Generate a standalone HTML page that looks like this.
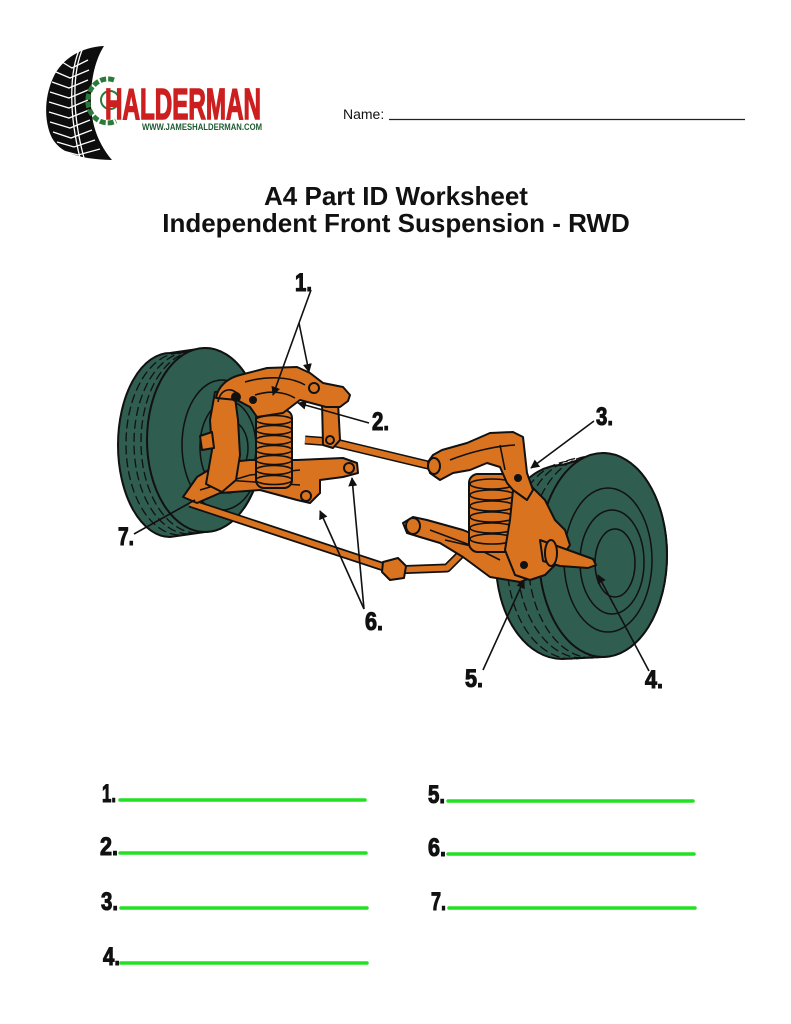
<!DOCTYPE html>
<html><head><meta charset="utf-8"><style>
html,body{margin:0;padding:0;background:#fff;}
svg{display:block;}
.o{fill:#d9731f;stroke:#111;stroke-width:2;stroke-linejoin:round;}
.k{fill:none;stroke:#111;stroke-width:1.6;}
.lbl{font-family:"Liberation Sans Narrow","Liberation Sans",sans-serif;font-weight:bold;font-size:25px;fill:#111;stroke:#111;stroke-width:1.1;}
</style></head><body>
<svg width="791" height="1024" viewBox="0 0 791 1024" xmlns="http://www.w3.org/2000/svg">
<defs>
<marker id="ar" viewBox="0 0 10 10" refX="9" refY="5" markerWidth="9" markerHeight="9" orient="auto" markerUnits="userSpaceOnUse">
<path d="M0,0 L10,5 L0,10 Z" fill="#111"/></marker>
</defs>
<rect width="791" height="1024" fill="#fff"/>

<!-- Logo tire -->
<path d="M104,46 C82,47 62,58 53,78 C44,98 44,122 52,138 C60,152 76,159 112,160 C100,146 92,128 91,106 C90,82 95,60 104,46 Z" fill="#0d0d0d"/>
<g stroke="#fff" stroke-width="1.3" fill="none">
<path d="M80,48 C70,70 68,110 80,158"/>
<path d="M83,48 C73,70 71,110 84,158"/>
<path d="M62,62 L72,68 L88,60"/><path d="M56,72 L70,78 L89,70"/><path d="M52,82 L69,88 L88,80"/>
<path d="M50,92 L69,98 L88,90"/><path d="M49,102 L69,108 L88,100"/><path d="M49,112 L69,118 L89,110"/>
<path d="M50,122 L70,128 L90,120"/><path d="M53,132 L71,138 L92,130"/><path d="M57,142 L74,147 L95,140"/>
<path d="M63,151 L78,155 L100,149"/>
</g>
<!-- emblem -->
<path d="M114,80 A20,22 0 1 0 116,121" fill="none" stroke="#2a7a3a" stroke-width="5" stroke-dasharray="6 2"/>
<circle cx="110" cy="100" r="9" fill="none" stroke="#2a7a3a" stroke-width="2"/>
<text x="105" y="119" font-weight="bold" font-size="44" fill="#cc1f1f" stroke="#cc1f1f" stroke-width="1.6" textLength="156" lengthAdjust="spacingAndGlyphs" style="font-family:'Liberation Sans Narrow','Liberation Sans',sans-serif">HALDERMAN</text>
<text x="142" y="130" font-size="9" font-weight="bold" fill="#1e5a32" textLength="120" lengthAdjust="spacingAndGlyphs" style="font-family:'Liberation Sans',sans-serif">WWW.JAMESHALDERMAN.COM</text>

<!-- Name -->
<text x="343" y="119" font-size="14" fill="#111" style="font-family:'Liberation Sans',sans-serif">Name:</text>
<line x1="389" y1="119.5" x2="745" y2="119.5" stroke="#222" stroke-width="1.2"/>

<!-- Title -->
<text x="396" y="205" text-anchor="middle" font-size="26" font-weight="bold" fill="#111" style="font-family:'Liberation Sans',sans-serif">A4 Part ID Worksheet</text>
<text x="396" y="232" text-anchor="middle" font-size="26" font-weight="bold" fill="#111" style="font-family:'Liberation Sans',sans-serif">Independent Front Suspension - RWD</text>

<!-- Left wheel -->
<path d="M170,353 L205,348 A58,92 0 0 1 205,532 L170,537 A52,92 0 0 1 170,353 Z" fill="#2f5d50" stroke="#111" stroke-width="2"/>
<g fill="none" stroke="#111" stroke-width="1.3" stroke-dasharray="9 4">
<ellipse cx="180" cy="444" rx="54" ry="91"/>
<ellipse cx="189" cy="443" rx="55" ry="91"/>
<ellipse cx="197" cy="442" rx="56" ry="91"/>
</g>
<ellipse cx="205" cy="440" rx="58" ry="92" fill="#2f5d50" stroke="#111" stroke-width="2"/>
<g fill="none" stroke="#111" stroke-width="1.5">
<ellipse cx="222" cy="445" rx="40" ry="65"/>
<ellipse cx="228" cy="447" rx="28" ry="46"/>
<ellipse cx="232" cy="448" rx="16" ry="26"/>
</g>

<!-- Right wheel -->
<path d="M562,465 L603,453 A64,102 0 0 1 603,657 L562,659 A66,97 0 0 1 562,465 Z" fill="#2f5d50" stroke="#111" stroke-width="2"/>
<g fill="none" stroke="#111" stroke-width="1.3" stroke-dasharray="9 4">
<ellipse cx="572" cy="560" rx="65" ry="99"/>
<ellipse cx="582" cy="558" rx="65" ry="100"/>
<ellipse cx="592" cy="557" rx="64" ry="101"/>
</g>
<ellipse cx="603" cy="555" rx="64" ry="102" fill="#2f5d50" stroke="#111" stroke-width="2"/>
<g fill="none" stroke="#111" stroke-width="1.5">
<ellipse cx="608" cy="560" rx="44" ry="72"/>
<ellipse cx="612" cy="562" rx="32" ry="52"/>
<ellipse cx="615" cy="563" rx="20" ry="34"/>
</g>

<!-- Stabilizer bar -->
<polyline points="190,503 393,570 447,568 478,537 502,530" fill="none" stroke="#111" stroke-width="9" stroke-linejoin="round"/>
<polyline points="190,503 393,570 447,568 478,537 502,530" fill="none" stroke="#d9731f" stroke-width="5.5" stroke-linejoin="round"/>
<path class="o" d="M383,562 L398,558 L406,566 L404,578 L390,580 L382,572 Z"/>
<!-- Tie rod / center link -->
<polyline points="305,440 332,442 432,466" fill="none" stroke="#111" stroke-width="9" stroke-linejoin="round"/>
<polyline points="305,440 332,442 432,466" fill="none" stroke="#d9731f" stroke-width="6" stroke-linejoin="round"/>

<!-- Left assembly -->
<path class="o" d="M183,497 L197,477 L220,463 L250,460 L297,460 L343,458 L357,463 L358,473 L343,477 L320,480 L320,493 L310,503 L297,500 L260,490 L220,493 L197,503 Z"/>
<circle cx="349" cy="468" r="5" class="o"/><circle cx="306" cy="496" r="5" class="o"/>
<path d="M200,490 L250,475 L300,470 M225,480 L300,485" class="k"/>
<!-- knuckle -->
<path class="o" d="M215,392 L234,390 L238,420 L240,455 L236,480 L222,492 L206,484 L212,450 L210,420 Z"/>
<path class="o" d="M200,436 L212,432 L214,448 L202,450 Z"/>
<!-- link -->
<path class="o" d="M322,402 L338,402 L340,440 L333,448 L323,445 Z"/>
<circle cx="330" cy="440" r="4" class="o"/>
<!-- spring -->
<rect x="256" y="410" width="36" height="78" rx="8" class="o"/>
<g fill="none" stroke="#111" stroke-width="1.6">
<ellipse cx="274" cy="420" rx="18" ry="4.5"/><ellipse cx="274" cy="430" rx="18" ry="4.5"/>
<ellipse cx="274" cy="440" rx="18" ry="4.5"/><ellipse cx="274" cy="450" rx="18" ry="4.5"/>
<ellipse cx="274" cy="460" rx="18" ry="4.5"/><ellipse cx="274" cy="470" rx="18" ry="4.5"/>
<ellipse cx="274" cy="480" rx="18" ry="4.5"/>
</g>
<!-- upper arm -->
<path class="o" d="M216,398 C218,386 228,378 240,375 L267,368 L297,367 L310,373 L323,383 L343,387 L350,395 L348,401 L340,407 L326,407 L300,400 L283,413 L257,417 L250,407 L237,400 Z"/>
<path d="M218,402 C220,390 230,386 238,394 M245,382 C265,376 290,376 305,385 M255,395 C270,390 285,392 295,398" class="k"/>
<circle cx="314" cy="388" r="5" class="o"/><circle cx="253" cy="400" r="4" fill="#111"/>
<circle cx="236" cy="397" r="5" fill="#111"/>

<!-- Right assembly -->
<path class="o" d="M403,523 L413,517 L427,520 L463,530 L480,537 L507,543 L527,557 L533,577 L520,582 L490,577 L463,557 L440,543 L420,537 L407,533 Z"/>
<ellipse cx="413" cy="526" rx="7" ry="8" class="o"/>
<path d="M430,530 L470,545 L500,560 M445,540 L480,548" class="k"/>
<!-- spring -->
<rect x="469" y="474" width="46" height="78" rx="9" class="o"/>
<g fill="none" stroke="#111" stroke-width="1.6">
<ellipse cx="492" cy="484" rx="22" ry="5"/><ellipse cx="492" cy="495" rx="22" ry="5"/>
<ellipse cx="492" cy="506" rx="22" ry="5"/><ellipse cx="492" cy="517" rx="22" ry="5"/>
<ellipse cx="492" cy="528" rx="22" ry="5"/><ellipse cx="492" cy="539" rx="22" ry="5"/>
</g>
<!-- knuckle -->
<path class="o" d="M513,490 L530,485 L545,500 L555,520 L565,530 L570,545 L560,560 L545,575 L530,580 L515,575 L505,550 L510,520 Z"/>
<!-- spindle -->
<path class="o" d="M540,540 L557,546 L593,559 L596,565 L588,568 L560,566 L543,561 Z"/>
<ellipse cx="551" cy="553" rx="6" ry="13" class="o"/>
<!-- upper arm -->
<path class="o" d="M428,462 L433,455 L442,450 L467,443 L490,433 L513,432 L523,437 L527,473 L533,490 L527,500 L513,490 L507,483 L500,467 L487,463 L470,470 L453,473 L440,480 L430,473 Z"/>
<ellipse cx="434" cy="466" rx="6" ry="8" class="o"/>
<path d="M450,460 C470,452 495,446 515,445 M500,445 L505,470" class="k"/>
<circle cx="518" cy="478" r="4" fill="#111"/><circle cx="524" cy="565" r="4" fill="#111"/>

<!-- Leader lines -->
<g stroke="#111" stroke-width="1.6" fill="none">
<line x1="311" y1="290" x2="299" y2="323"/>
<line x1="299" y1="323" x2="273" y2="395" marker-end="url(#ar)"/>
<line x1="299" y1="323" x2="309" y2="372" marker-end="url(#ar)"/>
<line x1="369" y1="423" x2="298" y2="403" marker-end="url(#ar)"/>
<line x1="594" y1="421" x2="531" y2="468" marker-end="url(#ar)"/>
<line x1="649" y1="671" x2="598" y2="575" marker-end="url(#ar)"/>
<line x1="483" y1="670" x2="524" y2="580" marker-end="url(#ar)"/>
<line x1="364" y1="609" x2="320" y2="511" marker-end="url(#ar)"/>
<line x1="364" y1="609" x2="352" y2="478" marker-end="url(#ar)"/>
<line x1="134" y1="534" x2="195" y2="500"/>
</g>

<!-- Diagram labels -->
<text class="lbl" x="295" y="291" textLength="17" lengthAdjust="spacingAndGlyphs">1.</text>
<text class="lbl" x="372" y="430" textLength="17" lengthAdjust="spacingAndGlyphs">2.</text>
<text class="lbl" x="596" y="425" textLength="17" lengthAdjust="spacingAndGlyphs">3.</text>
<text class="lbl" x="645" y="688" textLength="18" lengthAdjust="spacingAndGlyphs">4.</text>
<text class="lbl" x="465" y="687" textLength="18" lengthAdjust="spacingAndGlyphs">5.</text>
<text class="lbl" x="365" y="630" textLength="18" lengthAdjust="spacingAndGlyphs">6.</text>
<text class="lbl" x="118" y="545" textLength="16" lengthAdjust="spacingAndGlyphs">7.</text>

<!-- Answer lines -->
<g stroke="#22e022" stroke-width="3.5" stroke-linecap="round">
<line x1="120" y1="800" x2="365" y2="800"/>
<line x1="120" y1="853" x2="366" y2="853"/>
<line x1="121" y1="908" x2="367" y2="908"/>
<line x1="121" y1="963" x2="367" y2="963"/>
<line x1="448" y1="801" x2="693" y2="801"/>
<line x1="448" y1="854" x2="694" y2="854"/>
<line x1="449" y1="908" x2="695" y2="908"/>
</g>
<text class="lbl" x="102" y="802" textLength="14" lengthAdjust="spacingAndGlyphs">1.</text>
<text class="lbl" x="100" y="855" textLength="18" lengthAdjust="spacingAndGlyphs">2.</text>
<text class="lbl" x="101" y="910" textLength="17" lengthAdjust="spacingAndGlyphs">3.</text>
<text class="lbl" x="103" y="965" textLength="17" lengthAdjust="spacingAndGlyphs">4.</text>
<text class="lbl" x="428" y="803" textLength="17" lengthAdjust="spacingAndGlyphs">5.</text>
<text class="lbl" x="428" y="856" textLength="18" lengthAdjust="spacingAndGlyphs">6.</text>
<text class="lbl" x="431" y="910" textLength="15" lengthAdjust="spacingAndGlyphs">7.</text>
</svg>
</body></html>
